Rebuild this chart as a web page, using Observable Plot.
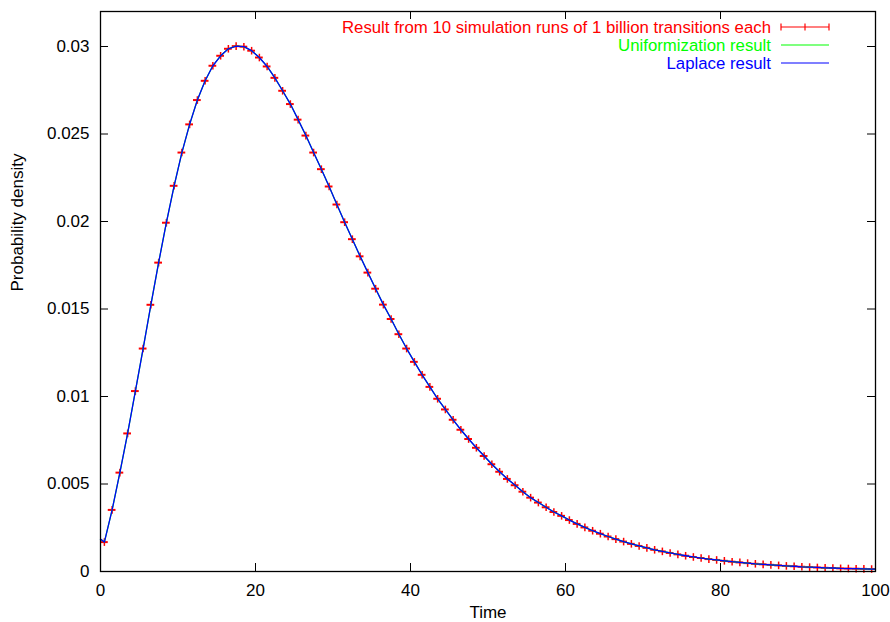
<!DOCTYPE html>
<html>
<head>
<meta charset="utf-8">
<script src="https://cdn.jsdelivr.net/npm/d3@7"></script>
<script src="https://cdn.jsdelivr.net/npm/@observablehq/plot@0.6"></script>
<style>
  html, body { margin: 0; padding: 0; background: #ffffff; }
  #chart svg { display: block; }
</style>
</head>
<body>
<div id="chart"></div>
<script>
// ---- Data ----
// Simulation results: bin centres (width 1) and estimated probability density
const simTime = d3.range(100).map(i => i + 0.5);
const simDensity = [
  0.00168, 0.00352, 0.00565, 0.00789, 0.01031, 0.01274, 0.01524, 0.01765, 0.01993, 0.02204,
  0.02394, 0.02555, 0.02694, 0.02804, 0.02890, 0.02947, 0.02987, 0.03002, 0.02999, 0.02976,
  0.02937, 0.02886, 0.02821, 0.02747, 0.02671, 0.02582, 0.02491, 0.02394, 0.02299, 0.02200,
  0.02097, 0.01996, 0.01899, 0.01801, 0.01708, 0.01616, 0.01525, 0.01443, 0.01356, 0.01274,
  0.01198, 0.01124, 0.01055, 0.00987, 0.00926, 0.00867, 0.00810, 0.00757, 0.00707, 0.00660,
  0.00613, 0.00570, 0.00529, 0.00493, 0.00456, 0.00422, 0.00394, 0.00367, 0.00340, 0.00318,
  0.00294, 0.00272, 0.00252, 0.00233, 0.00216, 0.00200, 0.00185, 0.00171, 0.00158, 0.00146,
  0.00135, 0.00124, 0.00115, 0.00106, 0.00098, 0.00090, 0.00083, 0.00077, 0.00071, 0.00066,
  0.00061, 0.00056, 0.00052, 0.00048, 0.00044, 0.00041, 0.00038, 0.00035, 0.00032, 0.00030,
  0.00027, 0.00025, 0.00023, 0.00021, 0.00020, 0.00018, 0.00017, 0.00016, 0.00015, 0.00014
];
// Analytic curves (Uniformization / Laplace) coincide with the simulation;
// they additionally start at t = 0 and end at t = 100.
const curveStartTime = 0, curveStartDensity = 0.00185;
const curveEndTime = 100, curveEndDensity = 0.00013;

const xTicks = [0, 20, 40, 60, 80, 100];
const yTicks = [0, 0.005, 0.01, 0.015, 0.02, 0.025, 0.03];
const yTickLabels = ["0", "0.005", "0.01", "0.015", "0.02", "0.025", "0.03"];

const seriesLabels = [
  "Result from 10 simulation runs of 1 billion transitions each",
  "Uniformization result",
  "Laplace result"
];
const seriesColors = ["#ff0000", "#00ff00", "#0000ff"];
const xLabel = "Time";
const yLabel = "Probability density";

// ---- Build tables ----
const sim = simTime.map((t, i) => ({t, p: simDensity[i], t0: t - 0.5, t1: t + 0.5}));
const curve = [{t: curveStartTime, p: curveStartDensity}, ...sim.map(d => ({t: d.t, p: d.p})), {t: curveEndTime, p: curveEndDensity}];

const W = 890, H = 622;
const mL = 100, mR = 15, mT = 11, mB = 51;
const fw = W - mL - mR, fh = H - mT - mB;
const tickLen = 8;
const font = "'Liberation Sans', Arial, Helvetica, sans-serif";

// vertical bar symbol (the point marker of the error bar)
const vbar = {draw(ctx, size) { const r = Math.sqrt(size / Math.PI); ctx.moveTo(0, -r); ctx.lineTo(0, r); }};

const chart = Plot.plot({
  width: W, height: H,
  marginLeft: mL, marginRight: mR, marginTop: mT, marginBottom: mB,
  style: {fontFamily: font, fontSize: "17px", background: "#ffffff", color: "#000"},
  x: {domain: [0, 100]},
  y: {domain: [0, 0.032]},
  marks: [
    // simulation x-error bars
    Plot.ruleY(sim, {y: "p", x1: "t0", x2: "t1", stroke: seriesColors[0], strokeWidth: 2}),
    Plot.dot(sim, {x: "t", y: "p", symbol: vbar, r: 3.8, stroke: seriesColors[0], strokeWidth: 1.5, fill: "none"}),
    // analytic curves
    Plot.line(curve, {x: "t", y: "p", stroke: seriesColors[1], strokeWidth: 1.2}),
    Plot.line(curve, {x: "t", y: "p", stroke: seriesColors[2], strokeWidth: 1.3}),
    // inward ticks (left/right, bottom/top)
    Plot.ruleY(yTicks, {stroke: "#000", strokeWidth: 1, insetRight: fw - tickLen}),
    Plot.ruleY(yTicks, {stroke: "#000", strokeWidth: 1, insetLeft: fw - tickLen}),
    Plot.ruleX(xTicks, {stroke: "#000", strokeWidth: 1, insetTop: fh - tickLen}),
    Plot.ruleX(xTicks, {stroke: "#000", strokeWidth: 1, insetBottom: fh - tickLen}),
    Plot.frame({stroke: "#000", strokeWidth: 1.3}),
    Plot.axisX({ticks: xTicks, tickSize: 0, tickPadding: 12, label: null, tickFormat: d => String(d)}),
    Plot.axisY({ticks: yTicks, tickSize: 0, tickPadding: 11, label: null, tickFormat: d => yTickLabels[yTicks.indexOf(d)]}),
    Plot.text([xLabel], {frameAnchor: "bottom", dy: 46, text: d => d, fontSize: 17}),
    Plot.text([yLabel], {frameAnchor: "left", dx: -83, rotate: -90, text: d => d, fontSize: 17})
  ]
});

// ---- Legend (inside the frame, top right) ----
const svg = d3.select(chart);
const lg = svg.append("g").attr("font-family", font).attr("font-size", 16.8);
const textRight = 771, sampleX0 = 781, sampleX1 = 829, row0 = 27, rowStep = 18;
seriesLabels.forEach((lab, i) => {
  const y = row0 + i * rowStep;
  lg.append("text").attr("x", textRight).attr("y", y).attr("dy", "0.35em")
    .attr("text-anchor", "end").attr("fill", seriesColors[i]).text(lab);
  lg.append("line").attr("x1", sampleX0).attr("x2", sampleX1).attr("y1", y).attr("y2", y)
    .attr("stroke", seriesColors[i]).attr("stroke-width", 1.2);
  if (i === 0) {
    [sampleX0, (sampleX0 + sampleX1) / 2, sampleX1].forEach(x => {
      lg.append("line").attr("x1", x).attr("x2", x).attr("y1", y - 3.5).attr("y2", y + 3.5)
        .attr("stroke", seriesColors[i]).attr("stroke-width", 1.2);
    });
  }
});

document.getElementById("chart").appendChild(chart);
</script>
</body>
</html>
